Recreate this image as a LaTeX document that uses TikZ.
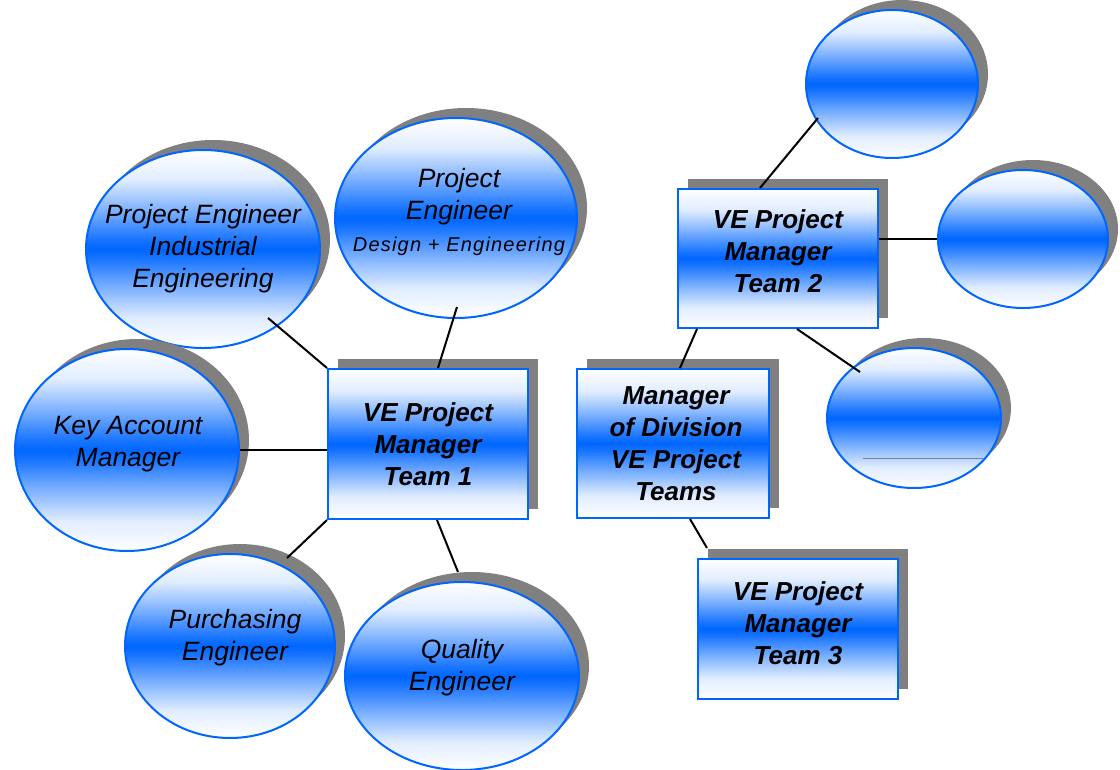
\documentclass[tikz,border=0pt]{standalone}
\usepackage{fontspec}
\setmainfont{Liberation Sans}
\usetikzlibrary{shapes.geometric,shadows,calc}
\definecolor{vblue}{RGB}{0,102,255}
\definecolor{shd}{RGB}{128,128,128}
\pgfdeclareverticalshading{vegrad}{100bp}{color(0bp)=(white); color(25bp)=(white);
  color(32.5bp)=(vblue!12!white); color(40bp)=(vblue!50!white); color(47.5bp)=(vblue!90!white);
  color(50bp)=(vblue); color(52.5bp)=(vblue!90!white); color(60bp)=(vblue!50!white);
  color(67.5bp)=(vblue!12!white); color(75bp)=(white); color(100bp)=(white)}
\begin{document}
\begin{tikzpicture}[x=1pt,y=-1pt,
  sh/.style={drop shadow={shadow xshift=10pt,shadow yshift=10pt,fill=shd,opacity=1}},
  grad/.style={shading=vegrad},
  bub/.style={ellipse,draw=vblue,line width=2pt,grad,sh,inner sep=0pt},
  box/.style={rectangle,draw=vblue,line width=2pt,grad,sh,inner sep=0pt},
  btxt/.style={align=center,inner sep=0pt,font=\fontsize{26.5}{32}\selectfont\itshape},
  xtxt/.style={align=center,inner sep=0pt,font=\fontsize{26}{32}\selectfont\bfseries\itshape},
  link/.style={line width=2pt,black}]
\useasboundingbox (0,0) rectangle (1120,769);

% ellipses
\node[bub,minimum width=234pt,minimum height=198pt] (pei) at (203,249) {};
\node[bub,minimum width=242pt,minimum height=200pt] (ped) at (456,218) {};
\node[bub,minimum width=224pt,minimum height=202pt] (kam) at (127,450) {};
\node[bub,minimum width=210pt,minimum height=184pt] (pur) at (230,646) {};
\node[bub,minimum width=234pt,minimum height=188pt] (qua) at (462,676) {};
\node[bub,minimum width=172pt,minimum height=148pt] (e1) at (892,84) {};
\node[bub,minimum width=170pt,minimum height=138pt] (e2) at (1023,239) {};
\node[bub,minimum width=174pt,minimum height=140pt] (e3) at (914,418) {};
\draw[shd,line width=0.8pt] ($(e3.center)+(-51,40)$) -- ($(e3.center)+(69,40)$);

% boxes
\node[box,minimum width=200pt,minimum height=150pt] (b1) at (428,444) {};
\node[box,minimum width=192pt,minimum height=149pt] (mgr) at (673,443.5) {};
\node[box,minimum width=200pt,minimum height=139pt] (b2) at (778,258.5) {};
\node[box,minimum width=200pt,minimum height=140pt] (b3) at (798,629) {};

% texts
\node[btxt] (tpei) at ($(pei.center)+(0,0)$) {Project Engineer\\Industrial\\Engineering};
\node[btxt] (tped) at ($(ped.center)+(3,-6)$) {Project\\Engineer\\{\fontsize{20}{26}\selectfont\addfontfeature{LetterSpace=6}Design + Engineering}};
\node[btxt] (tkam) at ($(kam.center)+(1,-6)$) {Key Account\\Manager};
\node[btxt] (tpur) at ($(pur.center)+(5,-8)$) {Purchasing\\Engineer};
\node[btxt] (tqua) at ($(qua.center)+(0,-8)$) {Quality\\Engineer};
\node[xtxt] (tb1) at (b1.center) {VE Project\\Manager\\Team 1};
\node[xtxt] (tmgr) at ($(mgr.center)+(3,0)$) {Manager\\of Division\\VE Project\\Teams};
\node[xtxt] (tb2) at ($(b2.center)+(0,-7)$) {VE Project\\Manager\\Team 2};
\node[xtxt] (tb3) at ($(b3.center)+(0,-6)$) {VE Project\\Manager\\Team 3};

% connectors
\draw[link] ($(pei.center)+(65,69)$) -- (b1.north west);
\draw[link] ($(ped.center)+(1,89)$) -- ($(b1.north)+(10,0)$);
\draw[link] (kam.east) -- (kam.east -| b1.west);
\draw[link] ($(pur.center)+(57,-88)$) -- (b1.south west);
\draw[link] ($(qua.center)+(-4,-104)$) -- ($(b1.south)+(9,0)$);
\draw[link] ($(b1.east)+(0,-5)$) -- ($(b1.east)+(0,-5)$ -| mgr.west);
\draw[link] ($(mgr.north)+(7,0)$) -- ($(b2.south)+(-81,0)$);
\draw[link] ($(mgr.south)+(17,0)$) -- ($(b3.north west)+(10,-10)$);
\draw[link] ($(b2.north)+(-18,0)$) -- ($(e1.center)+(-74,34)$);
\draw[link] (e2.west -| b2.east) -- (e2.west);
\draw[link] ($(b2.south)+(19,0)$) -- ($(e3.center)+(-54,-46)$);
\end{tikzpicture}
\end{document}
